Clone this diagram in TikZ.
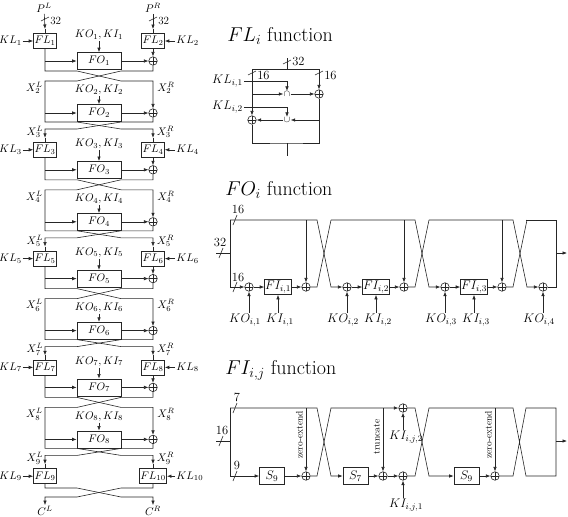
\RequirePackage{fix-cm}
\documentclass[tikz,border=0pt]{standalone}
\usepackage{amsmath}
\usetikzlibrary{arrows.meta}

\tikzset{
  lbl/.style={inner sep=1pt, font=\fontsize{11}{13}\selectfont},
  plbl/.style={inner sep=1pt, font=\fontsize{12.5}{14}\selectfont},
  fbox/.style={draw, lbl, minimum width=20pt, minimum height=15pt},
  fobox/.style={draw, lbl, minimum width=44pt, minimum height=17pt},
  fibox/.style={draw, plbl, inner sep=0.5pt, minimum width=25pt, minimum height=15pt},
  sbox/.style={draw, plbl, minimum width=25pt, minimum height=17pt},
  xorop/.style={circle, draw, fill=white, inner sep=0pt, minimum size=8.5pt,
    path picture={\draw (path picture bounding box.north) -- (path picture bounding box.south)
      (path picture bounding box.west) -- (path picture bounding box.east);}},
  setop/.style={inner sep=0.3pt, font=\fontsize{9}{10}\selectfont},
  headline/.style={inner sep=0pt, anchor=west, font=\fontsize{20}{24}\selectfont},
  rotnote/.style={inner sep=1pt, rotate=90, anchor=south, font=\fontsize{9.5}{11}\selectfont},
  cutv/.pic={\draw (-4,2) -- (4,-2);},
  cuth/.pic={\draw (-2,5) -- (2,-5);},
}

\begin{document}
\begin{tikzpicture}[x=1pt, y=-1pt, line width=0.6pt, draw=black!85,
  >={Latex[length=4.5pt,width=3.5pt]}]
\useasboundingbox (0,0) rectangle (568,517);

% ---- left column: the rounds
\node[lbl] (pl) at (44,8) {$P^L$};
\node[lbl] (pr) at (153,8) {$P^R$};
\coordinate (inL1) at (45,29);
\coordinate (inR2) at (153,29);
\draw[->] (pl) -- (inL1);
\draw[->] (pr) -- (inR2);
\pic at (45,19) {cutv};
\pic at (153,19) {cutv};
\node[lbl, anchor=west] (wl) at (49,21) {32};
\node[lbl, anchor=west] (wr) at (157,21) {32};

\foreach \k in {0,...,3}{
  \pgfmathsetmacro{\yF}{41+108.8*\k}
  \pgfmathtruncatemacro{\rA}{2*\k+1}
  \pgfmathtruncatemacro{\rB}{2*\k+2}
  \pgfmathtruncatemacro{\rC}{2*\k+3}
  \pgfmathtruncatemacro{\rD}{2*\k+4}
  % odd round
  \node[fbox] (fl\rA) at (45,\yF) {$FL_{\rA}$};
  \node[fbox] (fl\rB) at (153,\yF) {$FL_{\rB}$};
  \draw (inL\rA) -- (fl\rA);
  \draw (inR\rB) -- (fl\rB);
  \node[lbl, inner sep=0.5pt, anchor=east] (kl\rA) at (22.5,\yF) {$KL_{\rA}$};
  \node[lbl, anchor=west] (kl\rB) at (175,\yF) {$KL_{\rB}$};
  \draw[->] (kl\rA) -- (fl\rA);
  \draw[->] (kl\rB) -- (fl\rB);
  \node[lbl] (kk\rA) at (99,\yF-6) {$KO_{\rA}, KI_{\rA}$};
  \node[fobox] (fo\rA) at (99,\yF+20) {$FO_{\rA}$};
  \node[xorop] (xr\rA) at (153,\yF+20) {};
  \coordinate (bA\rA) at (45,\yF+20);
  \draw[->] (kk\rA) -- (fo\rA);
  \draw[->] (fl\rB) -- (xr\rA);
  \draw[->] (bA\rA) -- (fo\rA);
  \draw[->] (fo\rA) -- (xr\rA);
  % even round
  \node[lbl, anchor=east] (xl\rB) at (44,\yF+47) {$X^L_{\rB}$};
  \node[lbl, anchor=west] (xq\rB) at (156,\yF+47) {$X^R_{\rB}$};
  \node[lbl] (kk\rB) at (99,\yF+49) {$KO_{\rB}, KI_{\rB}$};
  \node[fobox] (fo\rB) at (99,\yF+72) {$FO_{\rB}$};
  \node[xorop] (xr\rB) at (153,\yF+72) {};
  \coordinate (bA\rB) at (45,\yF+72);
  \coordinate (inL\rC) at (45,\yF+96.8);
  \coordinate (inR\rD) at (153,\yF+96.8);
  \draw[->] (fl\rA) -- (45,\yF+30) -- (77,\yF+30) -- (121,\yF+40) -- (153,\yF+40) -- (xr\rB);
  \draw[->] (xr\rA) -- (153,\yF+30) -- (121,\yF+30) -- (77,\yF+40) -- (45,\yF+40)
    -- (45,\yF+81) -- (77,\yF+81) -- (121,\yF+88) -- (153,\yF+88) -- (inR\rD);
  \draw[->] (xr\rB) -- (153,\yF+81) -- (121,\yF+81) -- (77,\yF+88) -- (45,\yF+88) -- (inL\rC);
  \draw[->] (kk\rB) -- (fo\rB);
  \draw[->] (bA\rB) -- (fo\rB);
  \draw[->] (fo\rB) -- (xr\rB);
  \node[lbl, inner sep=0.5pt, anchor=east] (xl\rC) at (44,\yF+91) {$X^L_{\rC}$};
  \node[lbl, inner sep=0.5pt, anchor=west] (xq\rC) at (156,\yF+91) {$X^R_{\rC}$};
}

% last FL layer and output
\node[fbox] (fl9) at (45,476.2) {$FL_9$};
\node[fbox] (fl10) at (153,476.2) {$FL_{10}$};
\draw (inL9) -- (fl9);
\draw (inR10) -- (fl10);
\node[lbl, inner sep=0.5pt, anchor=east] (kl9) at (22.5,476.2) {$KL_9$};
\node[lbl, anchor=west] (kl10) at (175,476.2) {$KL_{10}$};
\draw[->] (kl9) -- (fl9);
\draw[->] (kl10) -- (fl10);
\node[lbl] (cl) at (45,511) {$C^L$};
\node[lbl] (cr) at (153,511) {$C^R$};
\draw[->] (fl9) -- (45,488) -- (77,488) -- (121,497) -- (153,497) -- (cr);
\draw[->] (fl10) -- (153,488) -- (121,488) -- (77,497) -- (45,497) -- (cl);

% ---- FL function
\node[headline] (tfl) at (227,36) {$FL_i$ function};
\coordinate (flin) at (287,58);
\coordinate (fltop) at (287,69);
\coordinate (flbot) at (287,143);
\coordinate (flout) at (287,156);
\node[xorop] (fla) at (319,94) {};
\node[xorop] (flb) at (252,120) {};
\node[setop] (cap) at (287,94) {$\cap$};
\node[setop] (cup) at (287,120) {$\cup$};
\draw (flin) -- (fltop);
\draw[->] (fltop) -| (fla);
\draw[->] (fltop) -| (flb);
\draw (flb) |- (flbot) -| (fla);
\draw (flbot) -- (flout);
\coordinate (fla1) at (252,94);
\coordinate (flb1) at (319,120);
\draw[->] (fla1) -- (cap);
\draw[->] (cap) -- (fla);
\draw[->] (flb1) -- (cup);
\draw[->] (cup) -- (flb);
\node[plbl, anchor=east] (klf1) at (244,81) {$KL_{i,1}$};
\node[plbl, anchor=east] (klf2) at (244,107) {$KL_{i,2}$};
\draw[->] (klf1.east) -| (cap);
\draw[->] (klf2.east) -| (cup);
\pic at (287,62) {cutv};
\pic at (252,73) {cutv};
\pic at (319,73) {cutv};
\node[plbl, anchor=west] (fw32) at (291,61) {32};
\node[plbl, anchor=west] (fw16a) at (256,75) {16};
\node[plbl, anchor=west] (fw16b) at (323,75) {16};

% ---- FO function
\node[headline] (tfo) at (225,190) {$FO_i$ function};
\coordinate (foin) at (216,253);
\coordinate (foinb) at (230,253);
\coordinate (fotl) at (230,220);
\coordinate (fobl) at (230,287);
\draw (foin) -- (foinb);
\draw (fotl) -- (fobl);
\pic at (221,253) {cuth};
\pic at (235,220) {cuth};
\pic at (235,287) {cuth};
\node[plbl] (ow32) at (220,242) {32};
\node[plbl] (ow16a) at (238,209) {16};
\node[plbl] (ow16b) at (238,277) {16};
\foreach \j in {1,...,4}
  \node[xorop] (kox\j) at ({249+98*(\j-1)},287) {};
\draw[->] (fobl) -- (kox1);
\foreach \j in {1,2,3}{
  \pgfmathsetmacro{\xa}{249+98*(\j-1)}
  \pgfmathsetmacro{\xb}{\xa+29}
  \pgfmathsetmacro{\xc}{\xa+57}
  \pgfmathsetmacro{\xs}{ifthenelse(\j==1,230,\xa-16)}
  \pgfmathtruncatemacro{\jn}{\j+1}
  \node[fibox] (fi\j) at (\xb,287) {$FI_{i,\j}$};
  \node[xorop] (mx\j) at (\xc,287) {};
  \node[plbl] (kol\j) at (\xa-4,320) {$KO_{i,\j}$};
  \node[plbl] (kil\j) at (\xb+2,320) {$KI_{i,\j}$};
  \coordinate (tp\j) at (\xc,220);
  \draw[->] (kol\j.north -| kox\j) -- (kox\j);
  \draw[->] (kil\j.north -| fi\j) -- (fi\j);
  \draw[->] (kox\j) -- (fi\j);
  \draw[->] (fi\j) -- (mx\j);
  \draw[->] (tp\j) -- (mx\j);
  \draw[->] (\xs,220) -- (\xc+11,220) -- (\xc+25,287) -- (kox\jn);
  \draw (mx\j) -- (\xc+11,287) -- (\xc+25,220);
}
\node[plbl] (kol4) at (539,320) {$KO_{i,4}$};
\draw[->] (kol4.north -| kox4) -- (kox4);
\draw (kox4) -- (556,287) -- (556,220) -- (526,220);
\coordinate (foout) at (556,253);
\coordinate (foend) at (567,253);
\draw[->] (foout) -- (foend);

% ---- FI function
\node[headline] (tfi) at (225,370) {$FI_{i,j}$ function};
\coordinate (fiin) at (216,441);
\coordinate (fiinb) at (230,441);
\coordinate (fitl) at (230,408);
\coordinate (fibl) at (230,476);
\draw (fiin) -- (fiinb);
\draw (fitl) -- (fibl);
\pic at (221,441) {cuth};
\pic at (235,408) {cuth};
\pic at (235,476) {cuth};
\node[plbl] (iw16) at (222,430) {16};
\node[plbl] (iw7) at (237,397) {7};
\node[plbl] (iw9) at (237,465) {9};
\node[sbox] (s9a) at (272,476) {$S_9$};
\node[xorop] (fxa) at (306,476) {};
\node[sbox] (s7) at (355.5,476) {$S_7$};
\node[xorop] (fxb) at (383,476) {};
\node[xorop] (fxc) at (403,476) {};
\node[xorop] (fxd) at (403,408) {};
\node[sbox] (s9b) at (466.5,476) {$S_9$};
\node[xorop] (fxe) at (495,476) {};
\node[plbl] (ki2) at (406,437) {$KI_{i,j,2}$};
\node[plbl] (ki1) at (406,505) {$KI_{i,j,1}$};
\coordinate (ze1) at (306,408);
\coordinate (trc) at (383,408);
\coordinate (ze2) at (495,408);
\draw[->] (fibl) -- (s9a);
\draw[->] (s9a) -- (fxa);
\draw[->] (ze1) -- (fxa);
\draw[->] (fitl) -- (317,408) -- (331,476) -- (s7);
\draw[->] (fxa) -- (317,476) -- (331,408) -- (fxd);
\draw[->] (trc) -- (fxb);
\draw[->] (s7) -- (fxb);
\draw[->] (fxb) -- (fxc);
\draw[->] (ki2.north -| fxd) -- (fxd);
\draw[->] (ki1.north -| fxc) -- (fxc);
\draw[->] (fxd) -- (415,408) -- (429,476) -- (s9b);
\draw[->] (s9b) -- (fxe);
\draw[->] (ze2) -- (fxe);
\draw (fxc) -- (415,476) -- (429,408) -- (513,408) -- (526,476) -- (556,476)
  -- (556,408) -- (526,408) -- (513,476) -- (fxe);
\coordinate (fiout) at (556,441);
\coordinate (fiend) at (567,441);
\draw[->] (fiout) -- (fiend);
\node[rotnote] (zx1) at (304,435) {zero-extend};
\node[rotnote] (tcn) at (381,437) {truncate};
\node[rotnote] (zx2) at (493,435) {zero-extend};
\end{tikzpicture}
\end{document}
